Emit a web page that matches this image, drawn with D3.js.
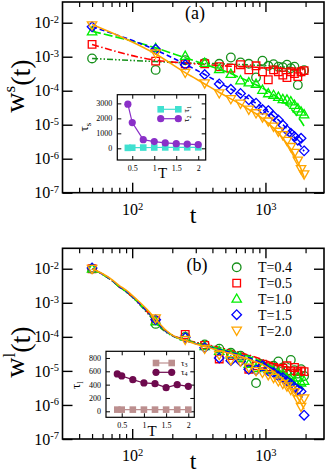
<!DOCTYPE html>
<html>
<head>
<meta charset="utf-8">
<script src="https://cdn.jsdelivr.net/npm/d3@7"></script>
<style>
  body { margin: 0; background: #fff; }
  text { font-family: "Liberation Serif", "Times New Roman", serif; }
</style>
</head>
<body>
<div id="chart"></div>
<script>
// times (t) of the data points
const tPts = [50, 150, 250, 350, 450, 550, 650, 750, 850, 950, 1050, 1150, 1250, 1350, 1450, 1550, 1650, 1750, 1850, 1950];
const tFit = [50, 60, 70, 80, 90, 100, 115, 130, 150, 175, 200, 250, 300, 400, 500, 650, 800, 1000, 1200, 1400, 1600, 1800, 1950];
const legendLabels = ["T=0.4", "T=0.5", "T=1.0", "T=1.5", "T=2.0"];

// panel (a): w^s(t)
const wsT04 = [8.9e-4, 4.1e-4, 7.9e-4, 6.6e-4, 6.2e-4, 9.5e-4, 6.8e-4, 6.2e-4, 2.45e-4, 7.6e-4, 5.4e-4, 6.0e-4, 5.1e-4, 4.9e-4, 5.8e-4, 4.6e-4, 5.1e-4, 1.48e-4, 3.6e-4, 4.0e-4];
const wsT05 = [2.3e-3, 7.4e-4, 6.2e-4, 6.2e-4, 5.1e-4, 4.6e-4, 5.8e-4, 4.1e-4, 5.4e-4, 3.6e-4, 2.1e-4, 4.1e-4, 3.6e-4, 2.9e-4, 2.45e-4, 3.6e-4, 3.2e-4, 2.6e-4, 3.6e-4, 3.9e-4];
const wsT10 = [5.5e-3, 1.78e-3, 1.05e-3, 6.5e-4, 4.3e-4, 3.1e-4, 2.0e-4, 1.74e-4, 1.58e-4, 1.05e-4, 8.3e-5, 7.4e-5, 6.5e-5, 5.6e-5, 5.4e-5, 4.8e-5, 3.8e-5, 3.0e-5, 2.4e-5, 2.0e-5];
const wsT15 = [7.6e-3, 1.66e-3, 5.8e-4, 3.0e-4, 1.58e-4, 1.1e-4, 8.3e-5, 5.4e-5, 4.3e-5, 2.8e-5, 2.6e-5, 1.8e-5, 1.38e-5, 9.8e-6, 6.9e-6, 5.6e-6, 4.5e-6, 3.5e-6, 4.0e-6, 1.7e-6];
const wsT20 = [8.5e-3, 1.26e-3, 3.4e-4, 1.66e-4, 8.5e-5, 5.75e-5, 4.2e-5, 2.8e-5, 2.2e-5, 1.66e-5, 1.26e-5, 8.9e-6, 6.3e-6, 5.0e-6, 3.4e-6, 2.24e-6, 1.5e-6, 8.9e-7, 5.0e-7, 3.5e-7];

const wsFit04 = [8.9e-4, 7.2e-4, 6.6e-4, 6.3e-4, 6.2e-4, 6.0e-4, 5.9e-4, 5.75e-4, 5.6e-4, 5.5e-4, 5.4e-4, 5.25e-4, 5.1e-4, 5.0e-4, 4.9e-4, 4.8e-4, 4.7e-4, 4.6e-4, 4.5e-4, 4.4e-4];
const wsFit05 = [2.3e-3, 7.9e-4, 6.5e-4, 5.9e-4, 5.5e-4, 5.25e-4, 5.1e-4, 5.0e-4, 4.9e-4, 4.8e-4, 4.7e-4, 4.6e-4, 4.5e-4, 4.5e-4, 4.4e-4, 4.3e-4, 4.3e-4, 4.2e-4, 4.2e-4, 4.1e-4];
const wsFit10 = [5.6e-3, 1.82e-3, 9.3e-4, 6.0e-4, 4.3e-4, 3.2e-4, 2.4e-4, 1.9e-4, 1.5e-4, 1.2e-4, 9.5e-5, 7.6e-5, 6.0e-5, 4.8e-5, 3.8e-5, 2.95e-5, 2.24e-5, 1.7e-5, 1.26e-5, 9.1e-6];
const wsFit15 = [7.6e-3, 1.58e-3, 6.0e-4, 3.0e-4, 1.74e-4, 1.12e-4, 7.9e-5, 5.75e-5, 4.3e-5, 3.2e-5, 2.4e-5, 1.8e-5, 1.38e-5, 1.02e-5, 7.6e-6, 5.6e-6, 4.2e-6, 3.1e-6, 2.3e-6, 1.66e-6];
const wsFit20 = [8.9e-3, 1.2e-3, 3.4e-4, 1.58e-4, 8.9e-5, 5.75e-5, 4.0e-5, 2.8e-5, 2.1e-5, 1.5e-5, 1.1e-5, 7.9e-6, 5.6e-6, 4.0e-6, 2.75e-6, 1.9e-6, 1.26e-6, 7.9e-7, 5.0e-7, 2.8e-7];

// panel (b): w^l(t)
const wlT04 = [1.0e-2, 2.4e-4, 1.0e-4, 6.0e-5, 4.5e-5, 3.4e-5, 2.8e-5, 1.78e-5, 4.4e-6, 1.41e-5, 1.12e-5, 1.41e-5, 1.9e-5, 1.26e-5, 1.0e-5, 2.1e-5, 1.05e-5, 8.3e-6, 1.12e-5, 7.1e-6];
const wlT05 = [1.0e-2, 3.0e-4, 1.17e-4, 5.6e-5, 2.24e-5, 2.8e-5, 2.4e-5, 1.12e-5, 1.41e-5, 1.58e-5, 1.32e-5, 1.26e-5, 1.12e-5, 1.2e-5, 1.41e-5, 1.0e-5, 1.26e-5, 9.5e-6, 1.0e-5, 9.5e-6];
const wlT10 = [1.0e-2, 2.8e-4, 1.0e-4, 5.25e-5, 3.8e-5, 3.0e-5, 2.4e-5, 1.58e-5, 1.2e-5, 1.26e-5, 1.12e-5, 1.0e-5, 8.9e-6, 7.9e-6, 6.3e-6, 5.6e-6, 5.0e-6, 6.3e-6, 4.5e-6, 5.0e-6];
const wlT15 = [1.05e-2, 3.2e-4, 9.5e-5, 4.8e-5, 2.4e-5, 2.0e-5, 1.9e-5, 1.12e-5, 1.05e-5, 1.41e-5, 1.0e-5, 8.9e-6, 7.1e-6, 6.3e-6, 5.0e-6, 4.2e-6, 3.3e-6, 2.8e-6, 2.5e-6, 5.0e-7];
const wlT20 = [1.0e-2, 3.55e-4, 8.3e-5, 4.5e-5, 3.0e-5, 2.1e-5, 1.9e-5, 1.26e-5, 1.0e-5, 8.9e-6, 7.6e-6, 6.3e-6, 5.0e-6, 4.2e-6, 3.55e-6, 2.8e-6, 2.4e-6, 1.5e-6, 8.9e-7, 1.58e-6];

const wlFit04 = [1.0e-2, 6.8e-3, 4.6e-3, 2.95e-3, 2.1e-3, 1.48e-3, 8.5e-4, 5.0e-4, 2.6e-4, 1.48e-4, 1.07e-4, 7.9e-5, 6.8e-5, 5.25e-5, 4.3e-5, 3.3e-5, 2.6e-5, 1.9e-5, 1.45e-5, 1.15e-5, 9.3e-6, 7.8e-6, 6.9e-6];
const wlFit05 = [1.0e-2, 6.8e-3, 4.6e-3, 2.95e-3, 2.14e-3, 1.51e-3, 8.9e-4, 5.4e-4, 2.8e-4, 1.58e-4, 1.12e-4, 8.3e-5, 6.9e-5, 5.4e-5, 4.4e-5, 3.4e-5, 2.7e-5, 2.0e-5, 1.58e-5, 1.32e-5, 1.12e-5, 9.8e-6, 8.9e-6];
const wlFit10 = [1.0e-2, 6.8e-3, 4.6e-3, 2.95e-3, 2.14e-3, 1.51e-3, 8.9e-4, 5.5e-4, 2.8e-4, 1.55e-4, 1.1e-4, 7.9e-5, 6.6e-5, 4.9e-5, 4.0e-5, 3.1e-5, 2.4e-5, 1.66e-5, 1.12e-5, 7.9e-6, 5.5e-6, 3.8e-6, 2.8e-6];
const wlFit15 = [1.0e-2, 6.9e-3, 4.7e-3, 3.0e-3, 2.2e-3, 1.55e-3, 9.1e-4, 5.6e-4, 3.0e-4, 1.58e-4, 1.1e-4, 7.8e-5, 6.3e-5, 4.7e-5, 3.8e-5, 2.9e-5, 2.2e-5, 1.51e-5, 1.0e-5, 6.3e-6, 3.8e-6, 2.24e-6, 1.41e-6];
const wlFit20 = [1.0e-2, 7.1e-3, 4.9e-3, 3.2e-3, 2.34e-3, 1.66e-3, 1.0e-3, 6.2e-4, 3.3e-4, 1.7e-4, 1.12e-4, 7.8e-5, 6.2e-5, 4.5e-5, 3.55e-5, 2.7e-5, 2.0e-5, 1.38e-5, 8.5e-6, 5.0e-6, 2.7e-6, 1.35e-6, 7.6e-7];

// insets: relaxation times vs T
const insetT = [0.4, 0.5, 0.75, 1.0, 1.25, 1.5, 1.75, 2.0];
const tau1 = [30, 40, 50, 55, 60, 60, 65, 65];
const tau2 = [2950, 1720, 580, 450, 360, 310, 280, 250];
const tau3 = [25, 25, 25, 25, 25, 25, 25, 25];
const tau4 = [560, 530, 475, 425, 415, 355, 400, 375];

// styles
const colors = ["#16901a", "#ff0000", "#00ee00", "#0000ff", "#ffa500"];
const shapes = ["circle", "square", "triangle", "diamond", "triangleDown"];
const dashes = ["6,2,1.5,2,1.5,2", "7,2.5,1.5,2.5", "9,3", "5,3", null];

function markerPath(shape, s) {
  s = s || 1;
  switch (shape) {
    case "circle": { const r = 4.3 * s; return `M${r},0A${r},${r} 0 1,1 ${-r},0A${r},${r} 0 1,1 ${r},0Z`; }
    case "square": { const h = 3.8 * s; return `M${-h},${-h}H${h}V${h}H${-h}Z`; }
    case "triangle": return `M0,${-4.9 * s}L${4.7 * s},${3.3 * s}H${-4.7 * s}Z`;
    case "diamond": return `M0,${-4.8 * s}L${4.8 * s},0L0,${4.8 * s}L${-4.8 * s},0Z`;
    case "triangleDown": return `M0,${4.9 * s}L${4.7 * s},${-3.3 * s}H${-4.7 * s}Z`;
  }
}

const W = 327, H = 474;
const xL = 62.5, xR = 324;

const svg = d3.select("#chart").append("svg")
  .attr("width", W)
  .attr("height", H);

const x = d3.scaleLog().domain([30, 2750]).range([xL, xR]);

function powLabel(sel) {
  sel.each(function(d) {
    const e = Math.round(Math.log10(d));
    const t = d3.select(this).text(null);
    t.append("tspan").text("10");
    t.append("tspan").attr("dy", "-0.5em").attr("font-size", "10.5px").text(e);
  });
}

function styleAxis(g, w) {
  g.attr("font-family", null).attr("font-size", null);
  g.select(".domain").remove();
  g.selectAll("line").attr("stroke", "#000").attr("stroke-width", w);
}

function drawPanel(cfg) {
  const y = d3.scaleLog().domain(cfg.yDomain).range([cfg.bottom, cfg.top]);
  const g = svg.append("g");

  const xMajor = [1e2, 1e3];
  const xMinor = [40, 50, 60, 70, 80, 90, 200, 300, 400, 500, 600, 700, 800, 900, 2000];
  const yMajor = [1e-7, 1e-6, 1e-5, 1e-4, 1e-3, 1e-2];

  // bottom axis
  g.append("g").attr("transform", `translate(0,${cfg.bottom})`)
    .call(d3.axisBottom(x).tickValues(xMajor).tickSize(-10).tickPadding(11))
    .call(a => styleAxis(a, 1.4))
    .selectAll("text").attr("font-size", "16px").attr("fill", "#000").call(powLabel);
  g.append("g").attr("transform", `translate(0,${cfg.bottom})`)
    .call(d3.axisBottom(x).tickValues(xMinor).tickSize(-5).tickFormat(""))
    .call(a => styleAxis(a, 1.2));
  // top axis (mirror)
  g.append("g").attr("transform", `translate(0,${cfg.top})`)
    .call(d3.axisTop(x).tickValues(xMajor).tickSize(-10).tickFormat(""))
    .call(a => styleAxis(a, 1.4));
  g.append("g").attr("transform", `translate(0,${cfg.top})`)
    .call(d3.axisTop(x).tickValues(xMinor).tickSize(-5).tickFormat(""))
    .call(a => styleAxis(a, 1.2));
  // left axis
  g.append("g").attr("transform", `translate(${xL},0)`)
    .call(d3.axisLeft(y).tickValues(yMajor).tickSize(-10).tickPadding(3.5))
    .call(a => styleAxis(a, 1.4))
    .selectAll("text").attr("font-size", "16px").attr("fill", "#000").call(powLabel);
  // right axis (mirror)
  g.append("g").attr("transform", `translate(${xR},0)`)
    .call(d3.axisRight(y).tickValues(yMajor).tickSize(-10).tickFormat(""))
    .call(a => styleAxis(a, 1.4));

  // series: markers then fitted curve
  cfg.series.forEach((s, i) => {
    g.append("g").selectAll("path")
      .data(s.pts)
      .join("path")
      .attr("transform", (d, j) => `translate(${x(tPts[j])},${y(d)})`)
      .attr("d", markerPath(shapes[i]))
      .attr("fill", "none")
      .attr("stroke", colors[i])
      .attr("stroke-width", 1.3);

    const line = d3.line()
      .x((d, j) => x(s.fitT[j]))
      .y(d => y(d))
      .curve(d3.curveMonotoneX);
    g.append("path")
      .datum(s.fit)
      .attr("d", line)
      .attr("fill", "none")
      .attr("stroke", colors[i])
      .attr("stroke-width", 1.6)
      .attr("stroke-dasharray", dashes[i]);
  });

  // frame
  g.append("rect")
    .attr("x", xL).attr("y", cfg.top)
    .attr("width", xR - xL).attr("height", cfg.bottom - cfg.top)
    .attr("fill", "none").attr("stroke", "#000").attr("stroke-width", 1.6);

  // panel tag
  g.append("text").attr("x", cfg.tagX).attr("y", cfg.tagY)
    .attr("text-anchor", "middle").attr("font-size", "18px").text(cfg.tag);

  // axis labels
  g.append("text").attr("x", 193).attr("y", cfg.bottom + 30)
    .attr("text-anchor", "middle").attr("font-size", "24px").text("t");
  const yl = g.append("text")
    .attr("transform", `translate(24,${cfg.yLabelY}) rotate(-90)`)
    .attr("text-anchor", "middle").attr("font-size", "28px");
  yl.append("tspan").text("w");
  yl.append("tspan").attr("dy", "-0.55em").attr("font-size", "17px").text(cfg.sup);
  yl.append("tspan").attr("dy", "0.55em").text("(t)");

  return y;
}

drawPanel({
  top: 2, bottom: 192.7, yDomain: [1e-7, 0.0407],
  tag: "(a)", tagX: 195, tagY: 19, sup: "s", yLabelY: 86,
  series: [
    { pts: wsT04, fit: wsFit04, fitT: tPts },
    { pts: wsT05, fit: wsFit05, fitT: tPts },
    { pts: wsT10, fit: wsFit10, fitT: tPts },
    { pts: wsT15, fit: wsFit15, fitT: tPts },
    { pts: wsT20, fit: wsFit20, fitT: tPts }
  ]
});

drawPanel({
  top: 248.3, bottom: 439, yDomain: [1e-7, 0.0398],
  tag: "(b)", tagX: 197, tagY: 271, sup: "l", yLabelY: 352,
  series: [
    { pts: wlT04, fit: wlFit04, fitT: tFit },
    { pts: wlT05, fit: wlFit05, fitT: tFit },
    { pts: wlT10, fit: wlFit10, fitT: tFit },
    { pts: wlT15, fit: wlFit15, fitT: tFit },
    { pts: wlT20, fit: wlFit20, fitT: tFit }
  ]
});

// legend in panel (b)
const legend = svg.append("g");
legendLabels.forEach((lab, i) => {
  const cy = 267.3 + i * 15.8;
  legend.append("path")
    .attr("transform", `translate(236.7,${cy})`)
    .attr("d", markerPath(shapes[i]))
    .attr("fill", "none").attr("stroke", colors[i]).attr("stroke-width", 1.3);
  legend.append("text").attr("x", 258).attr("y", cy + 5)
    .attr("font-size", "14px").text(lab);
});

function drawInset(o) {
  const xi = d3.scaleLinear().domain(o.xDomain).range([o.left, o.right]);
  const yi = d3.scaleLinear().domain(o.yDomain).range([o.bottom, o.top]);
  const g = svg.append("g");
  g.append("rect")
    .attr("x", o.left).attr("y", o.top)
    .attr("width", o.right - o.left).attr("height", o.bottom - o.top)
    .attr("fill", "#fff");

  const xt = [0.5, 1, 1.5, 2];
  g.append("g").attr("transform", `translate(0,${o.bottom})`)
    .call(d3.axisBottom(xi).tickValues(xt).tickSize(-4).tickPadding(5).tickFormat(d3.format("")))
    .call(a => styleAxis(a, 1))
    .selectAll("text").attr("font-size", "8px").attr("fill", "#000");
  g.append("g").attr("transform", `translate(0,${o.top})`)
    .call(d3.axisTop(xi).tickValues(xt).tickSize(-4).tickFormat(""))
    .call(a => styleAxis(a, 1));
  g.append("g").attr("transform", `translate(${o.left},0)`)
    .call(d3.axisLeft(yi).tickValues(o.yTicks).tickSize(-4).tickPadding(5).tickFormat(d3.format("")))
    .call(a => styleAxis(a, 1))
    .selectAll("text").attr("font-size", "8px").attr("fill", "#000");
  g.append("g").attr("transform", `translate(${o.right},0)`)
    .call(d3.axisRight(yi).tickValues(o.yTicks).tickSize(-4).tickFormat(""))
    .call(a => styleAxis(a, 1));

  const line = d3.line().x((d, i) => xi(insetT[i])).y(d => yi(d));
  o.sets.forEach(s => {
    g.append("path").datum(s.values).attr("d", line)
      .attr("fill", "none").attr("stroke", s.color).attr("stroke-width", 1.2);
    g.append("g").selectAll("path").data(s.values).join("path")
      .attr("transform", (d, i) => `translate(${xi(insetT[i])},${yi(d)})`)
      .attr("d", s.shape === "circle"
        ? "M3.6,0A3.6,3.6 0 1,1 -3.6,0A3.6,3.6 0 1,1 3.6,0Z"
        : "M-3.3,-3.3H3.3V3.3H-3.3Z")
      .attr("fill", s.color);
  });

  g.append("rect")
    .attr("x", o.left).attr("y", o.top)
    .attr("width", o.right - o.left).attr("height", o.bottom - o.top)
    .attr("fill", "none").attr("stroke", "#000").attr("stroke-width", 1.2);

  // axis labels
  g.append("text").attr("x", o.tX).attr("y", o.tY)
    .attr("text-anchor", "middle").attr("font-size", "15px").text("T");
  const yl = g.append("text")
    .attr("transform", `translate(${o.yLabX},${o.yLabY}) rotate(-90)`)
    .attr("text-anchor", "middle").attr("font-size", "13px");
  yl.append("tspan").text("τ");
  yl.append("tspan").attr("dy", "0.35em").attr("font-size", "9px").text(o.sub);

  // legend
  o.sets.forEach((s, i) => {
    const ly = o.legY + i * o.legDy;
    g.append("line").attr("x1", o.legX0).attr("x2", o.legX1).attr("y1", ly).attr("y2", ly)
      .attr("stroke", s.color).attr("stroke-width", 1.2);
    [o.legX0, o.legX1].forEach(px => {
      g.append("path").attr("transform", `translate(${px},${ly})`)
        .attr("d", s.shape === "circle"
          ? "M3.6,0A3.6,3.6 0 1,1 -3.6,0A3.6,3.6 0 1,1 3.6,0Z"
          : "M-3.3,-3.3H3.3V3.3H-3.3Z")
        .attr("fill", s.color);
    });
    const lt = g.append("text").attr("font-size", "8.5px");
    if (o.rotLabels) {
      lt.attr("transform", `translate(${o.legTX + 3},${ly}) rotate(-90)`).attr("text-anchor", "middle");
    } else {
      lt.attr("x", o.legTX).attr("y", ly + 2.5);
    }
    lt.append("tspan").text("τ");
    lt.append("tspan").attr("dy", "0.25em").attr("font-size", "6px").text(s.label);
  });
}

drawInset({
  left: 117.3, right: 205.7, top: 94.7, bottom: 160,
  xDomain: [0.16, 2.17], yDomain: [-780, 3580], yTicks: [0, 1000, 2000, 3000],
  tX: 162.5, tY: 177.5, yLabX: 88, yLabY: 127, sub: "s",
  legX0: 160.7, legX1: 178.3, legY: 109.3, legDy: 9.4, legTX: 186, rotLabels: true,
  sets: [
    { values: tau1, color: "#40e0d0", shape: "square", label: "1" },
    { values: tau2, color: "#8a2fc8", shape: "circle", label: "2" }
  ]
});

drawInset({
  left: 106, right: 194.3, top: 351.3, bottom: 417.3,
  xDomain: [0.146, 2.135], yDomain: [-90, 900], yTicks: [0, 200, 400, 600, 800],
  tX: 152, tY: 435.5, yLabX: 80, yLabY: 385, sub: "l",
  legX0: 156, legX1: 171.7, legY: 363, legDy: 9.3, legTX: 181, rotLabels: false,
  sets: [
    { values: tau3, color: "#bc8f8f", shape: "square", label: "3" },
    { values: tau4, color: "#6e0a4e", shape: "circle", label: "4" }
  ]
});
</script>
</body>
</html>
